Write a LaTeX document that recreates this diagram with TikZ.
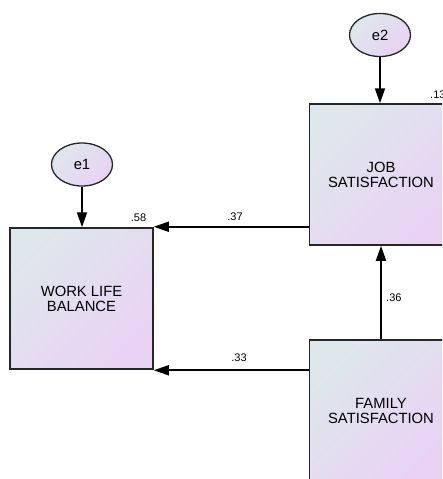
\documentclass[tikz,border=0pt]{standalone}
\usepackage{fontspec}
\setmainfont{Liberation Sans}
\usetikzlibrary{arrows.meta,shapes.geometric}
\definecolor{shadeA}{HTML}{DEE7EC}
\definecolor{shadeB}{HTML}{E9D2F4}
\definecolor{edge}{HTML}{262626}
\tikzset{
  x=1pt, y=-1pt,
  obsbox/.style={draw=edge, line width=1.5pt, minimum width=143pt, minimum height=141pt,
    inner sep=0pt, top color=shadeA, bottom color=shadeB, shading angle=45,
    align=center, font=\fontsize{14.8}{15}\selectfont},
  errnode/.style={ellipse, draw=edge, line width=1.3pt, minimum width=61pt, minimum height=43pt,
    inner sep=0pt, top color=shadeA, bottom color=shadeB, shading angle=45,
    font=\fontsize{14.8}{15}\selectfont},
  pathline/.style={draw=black, line width=1.8pt, -{Triangle[length=15pt,width=10pt]}},
  coef/.style={font=\fontsize{11}{12}\selectfont, inner sep=0pt}
}
\begin{document}
\begin{tikzpicture}
\clip (0,0) rectangle (442,479);
\node[obsbox] (wlb) at (81.5,298.5) {WORK LIFE\\BALANCE};
\node[obsbox] (job) at (381,174.5) {JOB\\SATISFACTION};
\node[obsbox] (fam) at (381,410.5) {FAMILY\\SATISFACTION};
\node[errnode] (e1) at (82,164.5) {e1};
\node[errnode] (e2) at (380,35) {e2};
\coordinate (t1) at ([yshift=0.5pt]wlb.north east);
\coordinate (t2) at ([yshift=-0.5pt]wlb.south east);
\draw[pathline] (e1.south) -- (e1.south |- wlb.north);
\draw[pathline] (e2.south) -- (e2.south |- job.north);
\draw[pathline] (job.west |- t1) -- (t1);
\draw[pathline] (fam.west |- t2) -- (t2);
\draw[pathline] (fam.north) -- (job.south);
\node[coef] (r1) at (138.5,217.5) {.58};
\node[coef, anchor=west] (r2) at (430,95) {.13};
\node[coef] (p1) at (235,217) {.37};
\node[coef] (p2) at (239,358) {.33};
\node[coef, anchor=west] (p3) at (386,298) {.36};
\end{tikzpicture}
\end{document}
